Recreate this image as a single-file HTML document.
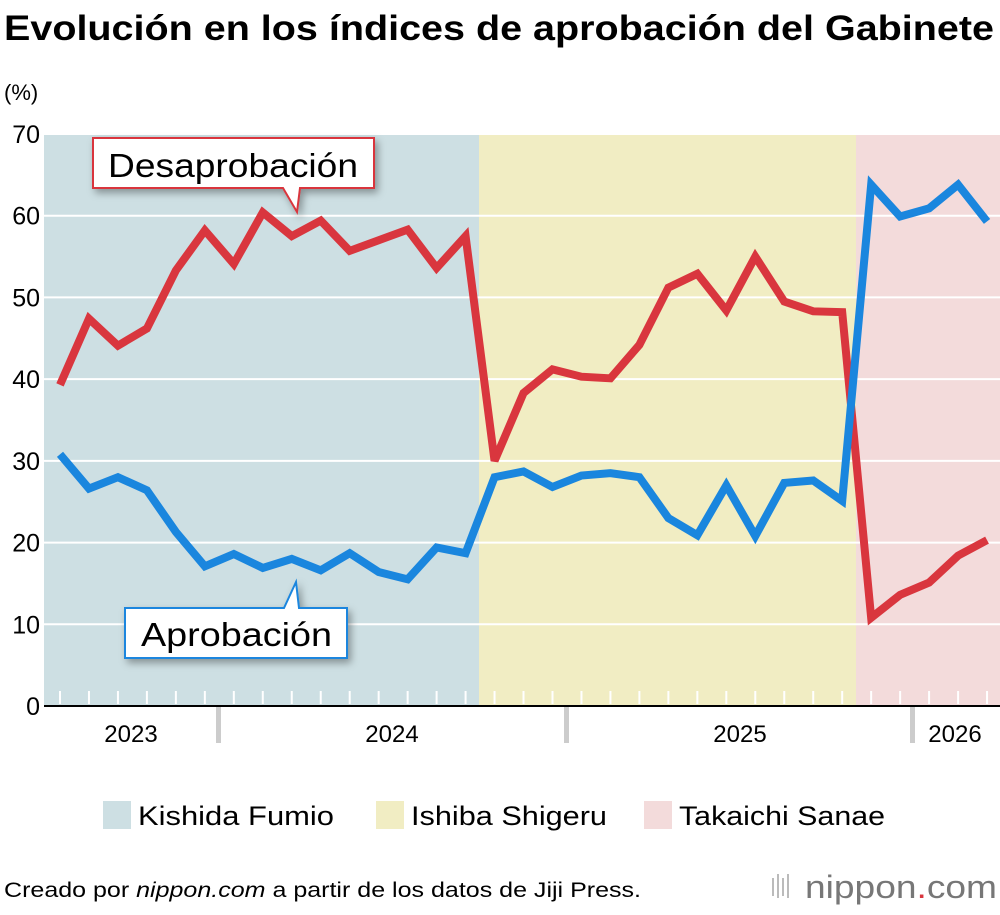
<!DOCTYPE html>
<html><head><meta charset="utf-8"><style>
body{margin:0;background:#fff;width:1000px;height:910px;overflow:hidden;font-family:"Liberation Sans",sans-serif}
</style></head><body>
<svg id="c" width="1000" height="910" xmlns="http://www.w3.org/2000/svg" font-family="Liberation Sans, sans-serif">
<text x="4" y="40" font-size="35" font-weight="bold" textLength="990" lengthAdjust="spacingAndGlyphs">Evolución en los índices de aprobación del Gabinete</text>
<text x="4" y="100" font-size="22">(%)</text>
<g id="bg"></g><g id="grid"></g><g id="ticks"></g><g id="lines"></g>
<defs><filter id="sh" x="-20%" y="-20%" width="140%" height="160%"><feDropShadow dx="3" dy="4" stdDeviation="4" flood-opacity="0.35"/></filter></defs>
<g filter="url(#sh)">
<path d="M93,138 H374 V188 H300 L297,212 L283,188 H93 Z" fill="#fff" stroke="#d9363e" stroke-width="2"/>
</g>
<text x="108" y="177" font-size="33" textLength="250" lengthAdjust="spacingAndGlyphs">Desaprobación</text>
<g filter="url(#sh)">
<path d="M125,608 H284 L296,582 L299,608 H347 V658 H125 Z" fill="#fff" stroke="#1a86de" stroke-width="2"/>
</g>
<text x="141" y="646" font-size="33" textLength="191" lengthAdjust="spacingAndGlyphs">Aprobación</text>
<g>
<rect x="103" y="801" width="28" height="28" fill="#cddfe3"/>
<text x="138" y="825" font-size="27" textLength="196" lengthAdjust="spacingAndGlyphs">Kishida Fumio</text>
<rect x="376" y="801" width="28" height="28" fill="#f1edc3"/>
<text x="411" y="825" font-size="27" textLength="196" lengthAdjust="spacingAndGlyphs">Ishiba Shigeru</text>
<rect x="644" y="801" width="28" height="28" fill="#f3dbdb"/>
<text x="679" y="825" font-size="27" textLength="206" lengthAdjust="spacingAndGlyphs">Takaichi Sanae</text>
</g>
<text x="4" y="897" font-size="21" textLength="637" lengthAdjust="spacingAndGlyphs">Creado por <tspan font-style="italic">nippon.com</tspan> a partir de los datos de Jiji Press.</text>
<g>
<rect x="772" y="878" width="2" height="18" fill="#bbb"/><rect x="777" y="874" width="2" height="24" fill="#bbb"/><rect x="782" y="878" width="2" height="18" fill="#bbb"/><rect x="787" y="874" width="2" height="24" fill="#bbb"/>
<text x="805" y="898" font-size="32" fill="#777" textLength="192" lengthAdjust="spacingAndGlyphs">nippon<tspan fill="#d9363e">.</tspan>com</text>
</g>
</svg>
<script>
const yTicks=[0,10,20,30,40,50,60,70];
const years=['2023','2024','2025','2026'];
const yearX=[131,392,740,955];
const disapproval=[39.3,47.4,44.1,46.2,53.3,58.2,54.1,60.4,57.5,59.4,55.7,57.0,58.3,53.6,57.5,30.0,38.3,41.2,40.3,40.1,44.2,51.2,52.9,48.4,55.0,49.5,48.3,48.2,10.8,13.6,15.1,18.4,20.3];
const approval=[30.8,26.6,28.0,26.4,21.3,17.1,18.6,16.9,18.0,16.6,18.7,16.4,15.5,19.4,18.7,28.0,28.7,26.8,28.2,28.5,28.0,23.0,20.9,27.0,20.8,27.3,27.6,25.1,63.8,59.9,60.9,63.8,59.3];
const ns='http://www.w3.org/2000/svg';
const y=v=>706-v*(572/70);
const x=i=>60+i*28.97;
function mk(p,t,a){const e=document.createElementNS(ns,t);for(const k in a)e.setAttribute(k,a[k]);document.getElementById(p).appendChild(e);return e;}
let r;
r=mk('bg','rect',{x:44,y:134,width:435,height:572,fill:'#cddfe3'});


r=mk('bg','rect',{x:479,y:134,width:377,height:572,fill:'#f1edc3'});


r=mk('bg','rect',{x:856,y:134,width:144,height:572,fill:'#f3dbdb'});


yTicks.forEach(v=>{
 if(v>0){const l=mk('grid','line',{x1:44,x2:1000,y1:y(v),y2:y(v),stroke:'#fff','stroke-width':2});
 
 }
 const t=mk('grid','text',{x:40,y:y(v)+9,'font-size':25,'text-anchor':'end'});t.textContent=v;
 
 
});
disapproval.forEach((d,i)=>{const l=mk('ticks','line',{x1:x(i),x2:x(i),y1:691,y2:704,stroke:'#fff','stroke-width':2});
 
 });
const ax=mk('ticks','line',{x1:44,x2:1000,y1:706,y2:706,stroke:'#000','stroke-width':2});


[218,566,912].forEach(sx=>{const l=mk('ticks','rect',{x:sx-2,y:707,width:5,height:36,fill:'#ccc'});
 
 });
years.forEach((yr,i)=>{const t=mk('ticks','text',{x:yearX[i],y:742,'font-size':24,'text-anchor':'middle'});t.textContent=yr;
 
 });
function line(arr,col,name){const p=mk('lines','polyline',{points:arr.map((v,i)=>x(i)+','+y(v)).join(' '),fill:'none',stroke:col,'stroke-width':8,'stroke-linejoin':'miter','stroke-miterlimit':3});
 
 }
line(disapproval,'#d9363e','disapproval-line');
line(approval,'#1a86de','approval-line');
</script>
</body></html>
